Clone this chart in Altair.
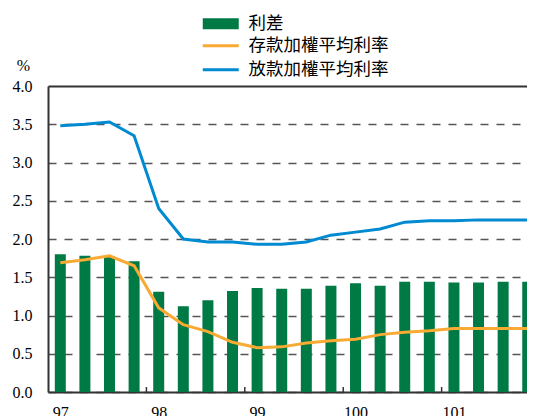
import altair as alt
import pandas as pd

# quarterly index 0..19 (97Q1 .. 101Q4)
quarters = list(range(20))
spread = [1.80, 1.78, 1.77, 1.71, 1.31, 1.12, 1.20, 1.32, 1.36, 1.35,
          1.35, 1.39, 1.42, 1.39, 1.44, 1.44, 1.43, 1.43, 1.44, 1.44]
deposit = [1.69, 1.73, 1.78, 1.65, 1.10, 0.88, 0.79, 0.65, 0.58, 0.59,
           0.64, 0.67, 0.69, 0.75, 0.78, 0.80, 0.83, 0.83, 0.83, 0.83]
loan = [3.48, 3.50, 3.53, 3.35, 2.40, 2.00, 1.96, 1.96, 1.93, 1.93,
        1.96, 2.05, 2.09, 2.13, 2.22, 2.24, 2.24, 2.25, 2.25, 2.25]
label_pos = [0, 4, 8, 12, 16]
y_ticks = [0, 0.5, 1, 1.5, 2, 2.5, 3, 3.5, 4]
year_bounds = [3.5, 7.5, 11.5, 15.5]

bar_name = "利差"
dep_name = "存款加權平均利率"
loan_name = "放款加權平均利率"

GREEN = "#007A45"
ORANGE = "#F9AA33"
BLUE = "#008AD2"

bars_df = pd.DataFrame({"q": quarters, "v": spread, "s": [bar_name] * len(quarters)})
lines_df = pd.DataFrame({
    "q": quarters * 2,
    "v": deposit + loan,
    "series": [dep_name] * len(quarters) + [loan_name] * len(quarters),
})
ticks_df = pd.DataFrame({"q": year_bounds})

xscale = alt.Scale(domain=[-0.5, 18.97], nice=False, zero=False, padding=0)
yscale = alt.Scale(domain=[0, 4], nice=False, padding=0)

x_axis = alt.Axis(
    values=label_pos,
    labelExpr="format(97 + datum.value / 4, 'd')",
    ticks=False, grid=False, title=None,
    domainColor="#333333", domainWidth=2,
    labelFont="Liberation Serif", labelFontSize=16, labelColor="#000000",
    labelPadding=12, labelOverlap=False,
)
y_axis = alt.Axis(
    values=y_ticks,
    format=".1f",
    ticks=False,
    labelOverlap=False,
    domainColor="#333333", domainWidth=2,
    gridDash={"condition": {"test": "datum.value >= 4", "value": [1, 0]}, "value": [8, 8]},
    gridColor={"condition": {"test": "datum.value >= 4", "value": "#333333"}, "value": "#555555"},
    gridWidth={"condition": {"test": "datum.value >= 4", "value": 2}, "value": 1.5},
    labelFont="Liberation Serif", labelFontSize=16, labelColor="#000000",
    labelPadding=16,
    title="%", titleAngle=0, titleFont="Liberation Serif", titleFontSize=16,
    titleFontWeight="normal", titleAlign="center", titleBaseline="middle",
    titleX=-25, titleY=-21, titleColor="#000000",
)

bars = alt.Chart(bars_df).mark_bar(width=11, clip=True).encode(
    x=alt.X("q:Q", scale=xscale, axis=x_axis),
    y=alt.Y("v:Q", scale=yscale, axis=y_axis),
    fill=alt.Fill("s:N", scale=alt.Scale(domain=[bar_name], range=[GREEN]),
                  legend=alt.Legend(
                      title=None, orient="none", legendX=164, legendY=-71,
                      symbolType="M-6,-1.8H6V1.8H-6Z", symbolSize=36,
                      symbolStrokeWidth=0, labelOffset=19, padding=0,
                      labelFont="Noto Sans CJK TC", labelFontSize=17.5,
                      labelColor="#000000")),
)

lines = alt.Chart(lines_df).mark_line(strokeWidth=3, clip=True).encode(
    x=alt.X("q:Q", scale=xscale, axis=x_axis),
    y=alt.Y("v:Q", scale=yscale, axis=y_axis),
    stroke=alt.Stroke("series:N",
                      scale=alt.Scale(domain=[dep_name, loan_name], range=[ORANGE, BLUE]),
                      legend=alt.Legend(
                          title=None, orient="none", legendX=164, legendY=-49,
                          symbolType="M-6,0H6", symbolSize=36,
                          symbolStrokeWidth=3, labelOffset=19, padding=0,
                          rowPadding=5,
                          labelFont="Noto Sans CJK TC", labelFontSize=17.5,
                          labelColor="#000000")),
)

year_ticks = alt.Chart(ticks_df).mark_rule(color="#333333", strokeWidth=1.5).encode(
    x=alt.X("q:Q", scale=xscale, axis=x_axis),
    y=alt.value(306),
    y2=alt.value(301),
)

chart = alt.layer(bars, lines, year_ticks).resolve_legend(
    fill="independent", stroke="independent"
).properties(
    width=479, height=306,
    autosize=alt.AutoSizeParams(type="none"),
    padding={"left": 40, "top": 78, "right": 0, "bottom": 24},
    background="white",
).configure_view(stroke=None)

chart.save("out.html", embed_options={"renderer": "svg", "actions": False})
